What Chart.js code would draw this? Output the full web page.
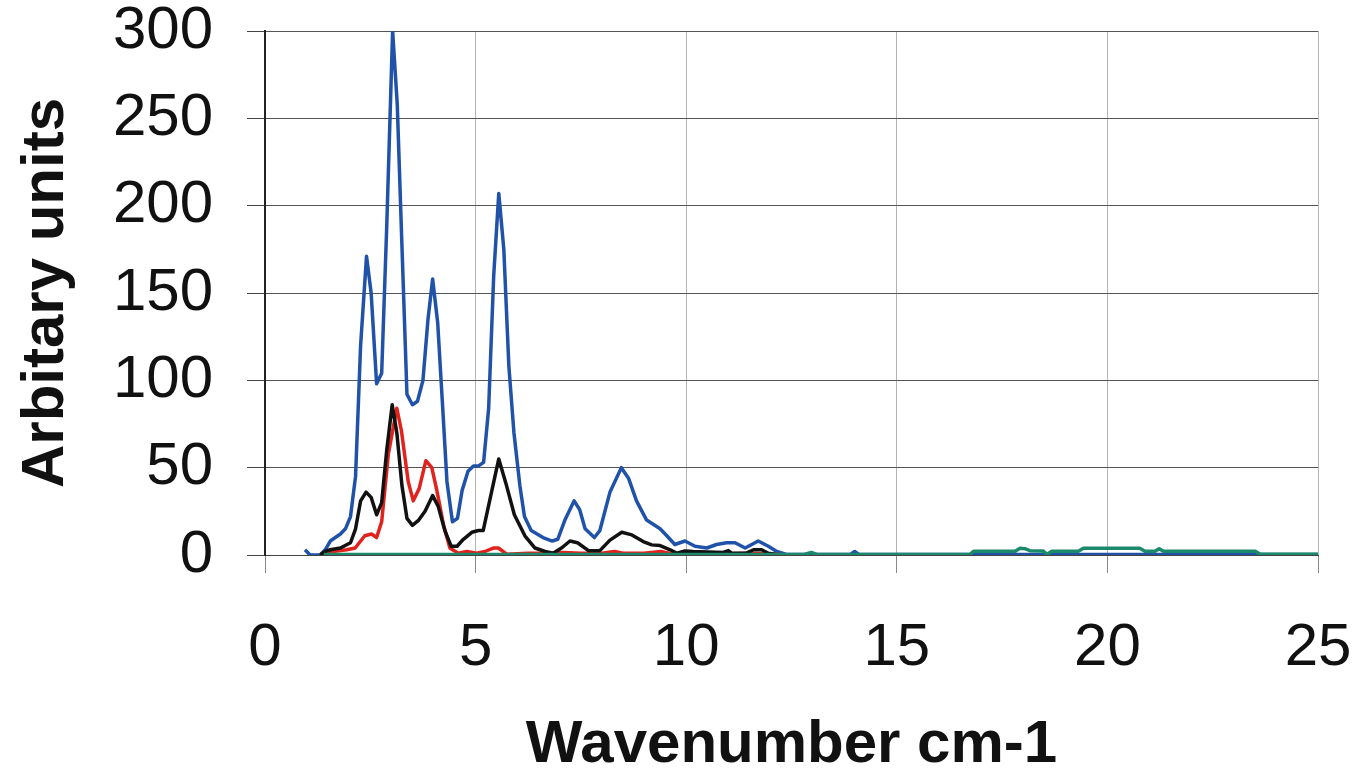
<!DOCTYPE html>
<html>
<head>
<meta charset="utf-8">
<script src="https://cdn.jsdelivr.net/npm/chart.js@4.4.0/dist/chart.umd.min.js"></script>
<style>
  html, body { margin: 0; padding: 0; background: #fff; }
  #wrap { width: 1358px; height: 779px; }
</style>
</head>
<body>
<div id="wrap"><canvas id="spectrum" width="1358" height="779"></canvas></div>
<script>
// values (wavenumber, arbitrary units)
const blueX = [0.95, 1.07, 1.31, 1.43, 1.55, 1.67, 1.79, 1.91, 2.03, 2.15, 2.27, 2.41, 2.52, 2.65, 2.77, 2.89, 3.03, 3.14, 3.25, 3.37, 3.50, 3.62, 3.75, 3.87, 3.98, 4.10, 4.21, 4.32, 4.45, 4.57, 4.68, 4.82, 4.95, 5.07, 5.19, 5.31, 5.43, 5.55, 5.67, 5.79, 5.91, 6.05, 6.16, 6.32, 6.60, 6.82, 6.95, 7.12, 7.34, 7.47, 7.60, 7.82, 7.95, 8.19, 8.46, 8.63, 8.82, 9.06, 9.38, 9.54, 9.73, 9.97, 10.21, 10.49, 10.72, 10.96, 11.16, 11.40, 11.71, 11.95, 12.15, 12.38, 13.9, 14.0, 14.1, 25];
const blueY = [3, 0, 0, 3, 8, 10, 12, 15, 22, 45, 120, 171, 150, 98, 104, 188, 300, 258, 178, 92, 86, 88, 100, 135, 158, 133, 88, 42, 19, 21, 37, 48, 51, 51, 53, 84, 160, 207, 175, 108, 70, 40, 22, 14, 10, 8, 9, 20, 31, 26, 15, 10, 14, 36, 50, 44, 31, 20, 15, 11, 6, 8, 5, 4, 6, 7, 7, 4, 8, 5, 2, 0.3, 0.3, 2, 0.3, 0.3];

const blackX = [1.31, 1.43, 1.55, 1.79, 2.03, 2.15, 2.27, 2.40, 2.52, 2.65, 2.77, 2.89, 3.02, 3.13, 3.25, 3.37, 3.50, 3.65, 3.80, 3.98, 4.11, 4.27, 4.42, 4.56, 4.71, 4.91, 5.07, 5.18, 5.36, 5.55, 5.72, 5.92, 6.17, 6.41, 6.65, 6.84, 7.04, 7.24, 7.42, 7.68, 7.95, 8.19, 8.47, 8.71, 8.98, 9.18, 9.38, 9.62, 9.78, 9.97, 10.17, 10.88, 11.0, 11.08, 11.44, 11.6, 11.79, 11.95, 12.2];
const blackY = [0, 2, 3, 4, 7, 15, 31, 36, 33, 23, 30, 60, 86, 70, 40, 21, 17, 20, 25, 34, 28, 14, 5, 5, 9, 13, 14, 14, 34, 55, 41, 23, 11, 4, 2, 1, 4, 8, 7, 2.5, 2.5, 8.5, 13, 11.5, 7.7, 5.8, 5.4, 3, 1, 2.3, 2, 1.5, 2.5, 1, 1.2, 3, 3, 1, 0];

const redX = [1.43, 1.62, 1.94, 2.14, 2.37, 2.53, 2.65, 2.77, 2.93, 3.13, 3.24, 3.40, 3.52, 3.66, 3.82, 3.96, 4.08, 4.24, 4.39, 4.59, 4.79, 5.03, 5.22, 5.42, 5.54, 5.74, 6.25, 6.69, 7.08, 7.5, 8.0, 8.3, 8.5, 9.0, 9.4, 9.7, 10.5, 11.5, 12.2];
const redY = [0, 2, 3, 4, 11, 12, 10, 19, 58, 84, 71, 42, 31, 38, 54, 50, 37, 17, 4, 1, 2, 1, 2, 4, 4, 0.5, 1, 1, 1.5, 1, 1, 2, 1, 1, 2, 0.5, 0.5, 1, 0.5];

const greenX = [1.4, 12.8, 12.97, 13.1, 16.74, 16.82, 17.81, 17.92, 18.04, 18.16, 18.47, 18.57, 18.68, 19.31, 19.43, 20.77, 20.89, 21.13, 21.23, 21.33, 23.51, 23.63, 25];
const greenY = [0.3, 0.3, 1.5, 0.3, 0.3, 2.1, 2.1, 3.8, 3.6, 2.5, 2.3, 0.4, 2.1, 2.1, 3.8, 3.8, 2.1, 2.1, 3.6, 2.1, 2.1, 0.4, 0.4];

const xTicks = [0, 5, 10, 15, 20, 25];
const yTicks = [0, 50, 100, 150, 200, 250, 300];

function pts(xs, ys) {
  return xs.map((x, i) => ({x: x, y: ys[i]}));
}

function series(xs, ys, color) {
  return {
    data: pts(xs, ys),
    borderColor: color,
    borderWidth: 3.5,
    pointRadius: 0,
    tension: 0,
    fill: false,
    borderJoinStyle: 'round'
  };
}

const font = 'Liberation Sans, Arial, Helvetica, sans-serif';

const ctx = document.getElementById('spectrum').getContext('2d');
new Chart(ctx, {
  type: 'line',
  data: {
    // first dataset is painted on top
    datasets: [
      series(greenX, greenY, '#1b8a6b'),
      series(blackX, blackY, '#111111'),
      series(redX, redY, '#e0231c'),
      series(blueX, blueY, '#1f52a8')
    ]
  },
  options: {
    responsive: false,
    animation: false,
    layout: { padding: 0 },
    plugins: { legend: { display: false }, tooltip: { enabled: false } },
    scales: {
      x: {
        type: 'linear',
        min: 0,
        max: 25,
        afterBuildTicks: (s) => { s.ticks = xTicks.map(v => ({value: v})); },
        afterFit: (s) => {
          s.height = 224;
          s.paddingLeft = 0;
          s.paddingRight = 40;
        },
        ticks: {
          color: '#111',
          padding: 39,
          maxRotation: 0,
          font: { family: font, size: 60, lineHeight: 1.2 }
        },
        grid: { color: '#b4b4b4', lineWidth: 1, tickLength: 18, tickColor: '#888' },
        border: { display: true, color: '#444', width: 1 },
        title: {
          display: true,
          text: 'Wavenumber cm-1',
          color: '#111',
          padding: { top: 0, bottom: 4 },
          font: { family: font, size: 60, weight: 'bold', lineHeight: 1 }
        }
      },
      y: {
        min: 0,
        max: 300,
        afterBuildTicks: (s) => { s.ticks = yTicks.map(v => ({value: v})); },
        afterFit: (s) => {
          s.width = 265;
          s.paddingTop = 31;
          s.paddingBottom = 0;
        },
        ticks: {
          color: '#111',
          padding: 34,
          font: { family: font, size: 60, lineHeight: 1 }
        },
        grid: { color: '#555', lineWidth: 1, tickLength: 18, tickColor: '#444' },
        border: { display: true, color: '#222', width: 2 },
        title: {
          display: true,
          text: 'Arbitary units',
          color: '#111',
          padding: { top: 16, bottom: 0 },
          font: { family: font, size: 60, weight: 'bold', lineHeight: 1 }
        }
      }
    }
  }
});
</script>
</body>
</html>
